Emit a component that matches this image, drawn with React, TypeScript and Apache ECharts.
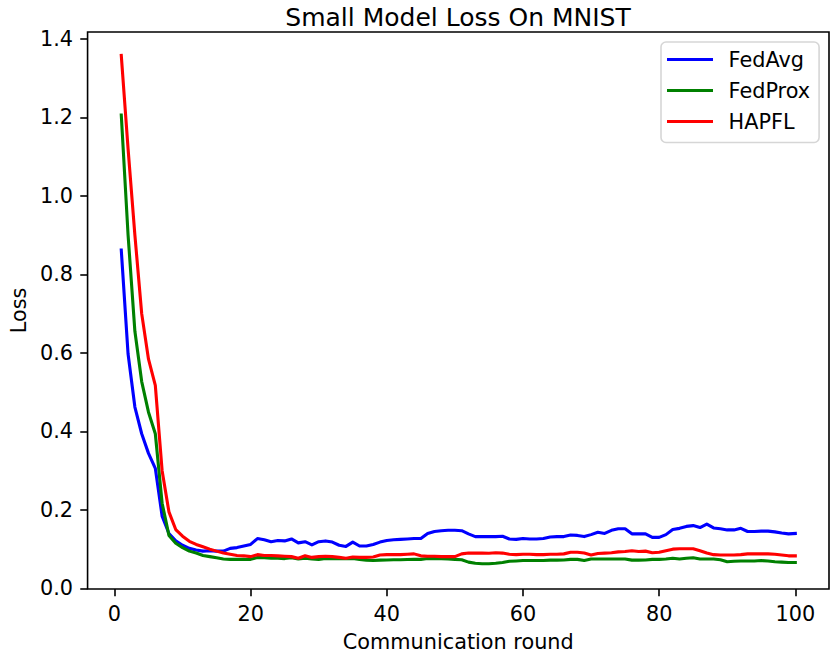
import React, { useEffect, useRef } from "react";
import * as echarts from "echarts";

const seriesNames = ["FedAvg", "FedProx", "HAPFL"];
const seriesColors = ["#0000ff", "#008000", "#ff0000"];

const fedAvg = [
  0.862, 0.597, 0.462, 0.394, 0.344, 0.306, 0.184, 0.14, 0.121, 0.11,
  0.102, 0.098, 0.095, 0.096, 0.095, 0.095, 0.102, 0.104, 0.108, 0.112,
  0.127, 0.124, 0.119, 0.122, 0.121, 0.126, 0.116, 0.119, 0.111, 0.119,
  0.121, 0.118, 0.11, 0.107, 0.118, 0.108, 0.108, 0.112, 0.118, 0.122,
  0.124, 0.125, 0.126, 0.127, 0.127, 0.14, 0.145, 0.147, 0.148, 0.148,
  0.147, 0.139, 0.132, 0.132, 0.132, 0.132, 0.133, 0.126, 0.125, 0.127,
  0.126, 0.126, 0.127, 0.131, 0.132, 0.132, 0.136, 0.135, 0.132, 0.137,
  0.143, 0.14, 0.148, 0.152, 0.152, 0.139, 0.139, 0.139, 0.13, 0.13,
  0.137, 0.15, 0.153, 0.158, 0.16, 0.155, 0.164, 0.154, 0.152, 0.149,
  0.149, 0.153, 0.145, 0.145, 0.146, 0.146, 0.144, 0.141, 0.139, 0.14,
];

const fedProx = [
  1.206, 0.9, 0.655, 0.527, 0.449, 0.394, 0.217, 0.135, 0.115, 0.104,
  0.095, 0.09, 0.084, 0.081, 0.078, 0.075, 0.074, 0.074, 0.074, 0.074,
  0.079, 0.078, 0.077, 0.077, 0.076, 0.078, 0.075, 0.077, 0.075, 0.074,
  0.076, 0.076, 0.076, 0.076, 0.076, 0.074, 0.072, 0.071, 0.072, 0.0725,
  0.073, 0.073, 0.0735, 0.074, 0.074, 0.076, 0.076, 0.076, 0.075, 0.074,
  0.073, 0.067, 0.064, 0.063, 0.063, 0.064, 0.066, 0.069, 0.07, 0.071,
  0.071, 0.071, 0.071, 0.072, 0.072, 0.0725, 0.074, 0.074, 0.071, 0.075,
  0.075, 0.075, 0.075, 0.075, 0.075, 0.072, 0.072, 0.0725, 0.074, 0.074,
  0.075, 0.077, 0.075, 0.077, 0.078, 0.075, 0.075, 0.075, 0.073, 0.068,
  0.069, 0.07, 0.07, 0.07, 0.071, 0.07, 0.068, 0.067, 0.066, 0.066,
];

const hapfl = [
  1.358, 1.12, 0.9, 0.7, 0.584, 0.517, 0.3, 0.195, 0.15, 0.133,
  0.12, 0.112, 0.106, 0.1, 0.095, 0.09, 0.087, 0.084, 0.083, 0.081,
  0.086, 0.084, 0.084, 0.083, 0.082, 0.081, 0.077, 0.083, 0.079, 0.081,
  0.082, 0.081, 0.079, 0.077, 0.08, 0.079, 0.079, 0.08, 0.085, 0.086,
  0.086, 0.086, 0.087, 0.088, 0.083, 0.082, 0.082, 0.081, 0.081, 0.081,
  0.088, 0.09, 0.09, 0.09, 0.0895, 0.091, 0.09, 0.087, 0.086, 0.087,
  0.087, 0.086, 0.086, 0.087, 0.087, 0.088, 0.092, 0.092, 0.09, 0.085,
  0.089, 0.09, 0.091, 0.093, 0.094, 0.096, 0.094, 0.095, 0.091, 0.092,
  0.096, 0.1, 0.101, 0.101, 0.101, 0.096, 0.09, 0.086, 0.085, 0.085,
  0.085, 0.086, 0.088, 0.088, 0.088, 0.088, 0.087, 0.085, 0.083, 0.083,
];

const rounds = fedAvg.map((_, i) => i + 1);
const xTicks = [0, 20, 40, 60, 80, 100];
const yTicks = [0, 0.2, 0.4, 0.6, 0.8, 1.0, 1.2, 1.4];

const FONT = "DejaVu Sans";
const FS = 20.8;

export default function App() {
  const ref = useRef<HTMLDivElement>(null);

  useEffect(() => {
    if (!ref.current) return;
    const chart = echarts.init(ref.current, null, { renderer: "svg" });
    const allSeries = [fedAvg, fedProx, hapfl];
    const tickStyle = { show: true, inside: false, length: 7.3, lineStyle: { color: "#000", width: 1.6 } };
    chart.setOption({
      animation: false,
      backgroundColor: "#fff",
      title: {
        text: "Small Model Loss On MNIST",
        left: 453,
        textAlign: "center",
        top: 0,
        textStyle: { fontFamily: FONT, fontSize: 25, fontWeight: "normal", color: "#000" },
      },
      legend: {
        orient: "vertical",
        left: 661,
        top: 42,
        data: seriesNames,
        icon: "rect",
        itemWidth: 46,
        itemHeight: 3,
        itemGap: 10,
        padding: [7, 9, 10.5, 6],
        borderColor: "#d6d6d6",
        borderWidth: 1.6,
        borderRadius: 5,
        backgroundColor: "#fff",
        textStyle: { fontFamily: FONT, fontSize: FS, color: "#000", padding: [0, 0, 0, 10.6] },
      },
      grid: {
        left: 77.3,
        right: 1,
        top: 32,
        bottom: 64.3,
        show: true,
        borderColor: "#000",
        borderWidth: 1.6,
        backgroundColor: "transparent",
      },
      xAxis: {
        type: "value",
        min: -3.95,
        max: 104.95,
        name: "Communication round",
        nameLocation: "middle",
        nameGap: 42,
        nameTextStyle: { fontFamily: FONT, fontSize: FS, color: "#000" },
        axisLine: { show: false, onZero: false },
        axisTick: { ...tickStyle, customValues: xTicks },
        axisLabel: {
          customValues: xTicks,
          margin: 14.6,
          fontFamily: FONT,
          fontSize: FS,
          color: "#000",
        },
        splitLine: { show: false },
      },
      yAxis: {
        type: "value",
        min: -0.0015,
        max: 1.4175,
        name: "Loss",
        nameLocation: "middle",
        nameGap: 57,
        nameTextStyle: { fontFamily: FONT, fontSize: FS, color: "#000" },
        axisLine: { show: false, onZero: false },
        axisTick: { ...tickStyle, customValues: yTicks },
        axisLabel: {
          customValues: yTicks,
          margin: 14.6,
          fontFamily: FONT,
          fontSize: FS,
          color: "#000",
          formatter: (v: number) => v.toFixed(1),
        },
        splitLine: { show: false },
      },
      series: seriesNames.map((name, k) => ({
        name,
        type: "line",
        data: rounds.map((r, i) => [r, allSeries[k][i]]),
        showSymbol: false,
        symbol: "none",
        color: seriesColors[k],
        lineStyle: { color: seriesColors[k], width: 3.1, cap: "square", join: "round" },
        clip: true,
      })),
    });
    return () => chart.dispose();
  }, []);

  return (
    <div
      ref={ref}
      style={{ position: "fixed", left: 0, top: 0, width: 830, height: 657, background: "#fff" }}
    />
  );
}
